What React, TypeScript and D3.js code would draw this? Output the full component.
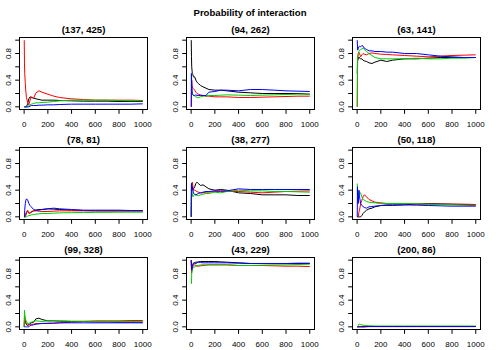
import React from 'react';
import * as d3 from 'd3';

const W = 500;
const H = 350;

// iterations at which the running estimates were read off the picture
const steps = [1, 3, 5, 10, 15, 20, 30, 40, 50, 60, 80, 100, 125, 150, 200, 250, 300, 400, 500, 600, 700, 800, 900, 1000];

const panelTitles = ['(137, 425)', '(94, 262)', '(63, 141)', '(78, 81)', '(38, 277)', '(50, 118)', '(99, 328)', '(43, 229)', '(200, 86)'];
const seriesColors = ['#000000', '#FF0000', '#00CD00', '#0000FF'];
const xTicks = [0, 200, 400, 600, 800, 1000];
const yTicks = [0, 0.2, 0.4, 0.6, 0.8, 1];
const yLabelTicks = [0, 0.4, 0.8];

// each panel: black, red, green, blue
const panel1 = [
  [0, 0, 0, 0, 0, 0, 0.05, 0.12, 0.15, 0.14, 0.13, 0.12, 0.11, 0.1, 0.1, 0.1, 0.095, 0.09, 0.085, 0.085, 0.085, 0.08, 0.08, 0.08],
  [1, 0.67, 0.5, 0.35, 0.22, 0.14, 0.06, 0.03, 0.1, 0.15, 0.13, 0.21, 0.24, 0.22, 0.19, 0.16, 0.14, 0.12, 0.11, 0.1, 0.1, 0.1, 0.1, 0.095],
  [0, 0, 0, 0, 0, 0, 0, 0.02, 0.03, 0.04, 0.05, 0.06, 0.06, 0.065, 0.07, 0.08, 0.09, 0.1, 0.1, 0.1, 0.1, 0.095, 0.09, 0.09],
  [0, 0, 0, 0, 0, 0, 0, 0, 0.01, 0.02, 0.02, 0.02, 0.025, 0.025, 0.03, 0.03, 0.035, 0.04, 0.04, 0.04, 0.04, 0.04, 0.04, 0.045],
];
const panel2 = [
  [1, 0.75, 0.6, 0.5, 0.48, 0.45, 0.45, 0.4, 0.37, 0.35, 0.32, 0.3, 0.28, 0.26, 0.25, 0.25, 0.24, 0.22, 0.21, 0.2, 0.2, 0.2, 0.2, 0.19],
  [0, 0.33, 0.4, 0.3, 0.28, 0.27, 0.25, 0.22, 0.2, 0.19, 0.18, 0.17, 0.16, 0.16, 0.15, 0.15, 0.15, 0.14, 0.14, 0.145, 0.15, 0.155, 0.16, 0.16],
  [0.5, 0.33, 0.25, 0.2, 0.18, 0.18, 0.16, 0.15, 0.14, 0.135, 0.15, 0.16, 0.165, 0.17, 0.17, 0.175, 0.18, 0.175, 0.17, 0.175, 0.18, 0.185, 0.19, 0.19],
  [0, 0.5, 0.33, 0.2, 0.18, 0.17, 0.17, 0.18, 0.17, 0.17, 0.17, 0.17, 0.17, 0.22, 0.23, 0.25, 0.25, 0.24, 0.26, 0.26, 0.25, 0.24, 0.235, 0.23],
];
const panel3 = [
  [0.5, 0.67, 0.7, 0.72, 0.75, 0.73, 0.72, 0.72, 0.7, 0.69, 0.68, 0.66, 0.65, 0.67, 0.7, 0.68, 0.7, 0.72, 0.72, 0.73, 0.74, 0.74, 0.74, 0.74],
  [0, 0.5, 0.75, 0.8, 0.82, 0.8, 0.75, 0.78, 0.8, 0.79, 0.78, 0.8, 0.81, 0.8, 0.79, 0.785, 0.78, 0.77, 0.76, 0.75, 0.76, 0.77, 0.775, 0.78],
  [0, 0.67, 0.75, 0.8, 0.83, 0.85, 0.86, 0.87, 0.88, 0.86, 0.83, 0.8, 0.77, 0.74, 0.72, 0.72, 0.72, 0.72, 0.73, 0.72, 0.72, 0.73, 0.73, 0.74],
  [1, 0.9, 0.85, 0.88, 0.9, 0.91, 0.9, 0.92, 0.91, 0.88, 0.86, 0.84, 0.84, 0.83, 0.83, 0.82, 0.82, 0.8, 0.8, 0.78, 0.76, 0.75, 0.74, 0.74],
];
const panel4 = [
  [0, 0, 0, 0, 0.03, 0.06, 0.08, 0.06, 0.05, 0.07, 0.09, 0.1, 0.11, 0.11, 0.12, 0.115, 0.11, 0.1, 0.095, 0.09, 0.09, 0.09, 0.09, 0.09],
  [0, 0, 0, 0, 0.05, 0.08, 0.1, 0.05, 0.06, 0.08, 0.09, 0.09, 0.085, 0.08, 0.08, 0.085, 0.09, 0.09, 0.09, 0.09, 0.088, 0.087, 0.085, 0.085],
  [0, 0, 0, 0, 0, 0, 0.01, 0.02, 0.02, 0.03, 0.035, 0.04, 0.045, 0.05, 0.05, 0.055, 0.06, 0.062, 0.065, 0.067, 0.068, 0.07, 0.07, 0.07],
  [0, 0, 0.1, 0.2, 0.25, 0.27, 0.25, 0.2, 0.17, 0.15, 0.11, 0.1, 0.1, 0.11, 0.12, 0.13, 0.12, 0.11, 0.1, 0.1, 0.1, 0.1, 0.095, 0.095],
];
const panel5 = [
  [0, 0.5, 0.5, 0.45, 0.4, 0.42, 0.45, 0.5, 0.52, 0.5, 0.47, 0.48, 0.45, 0.42, 0.4, 0.41, 0.4, 0.36, 0.35, 0.33, 0.33, 0.33, 0.32, 0.32],
  [0, 0.33, 0.4, 0.52, 0.45, 0.4, 0.4, 0.39, 0.38, 0.37, 0.36, 0.36, 0.37, 0.37, 0.38, 0.38, 0.38, 0.38, 0.37, 0.36, 0.37, 0.38, 0.385, 0.39],
  [0, 0.5, 0.4, 0.35, 0.3, 0.32, 0.33, 0.33, 0.32, 0.315, 0.33, 0.34, 0.35, 0.35, 0.37, 0.36, 0.38, 0.4, 0.39, 0.39, 0.38, 0.38, 0.375, 0.37],
  [0, 0.5, 0.4, 0.45, 0.4, 0.35, 0.34, 0.33, 0.34, 0.35, 0.36, 0.37, 0.38, 0.38, 0.39, 0.39, 0.39, 0.42, 0.41, 0.41, 0.41, 0.41, 0.41, 0.41],
];
const panel6 = [
  [0, 0, 0, 0, 0, 0, 0, 0.02, 0.05, 0.07, 0.1, 0.12, 0.13, 0.15, 0.17, 0.18, 0.18, 0.18, 0.19, 0.2, 0.195, 0.19, 0.185, 0.18],
  [0, 0, 0, 0, 0.07, 0.1, 0.2, 0.25, 0.3, 0.33, 0.3, 0.26, 0.24, 0.22, 0.21, 0.2, 0.2, 0.2, 0.19, 0.19, 0.19, 0.19, 0.19, 0.185],
  [0.5, 0.33, 0.3, 0.3, 0.35, 0.38, 0.35, 0.3, 0.26, 0.25, 0.23, 0.22, 0.215, 0.21, 0.2, 0.2, 0.2, 0.2, 0.195, 0.19, 0.185, 0.18, 0.175, 0.17],
  [0, 0.45, 0.3, 0.2, 0.4, 0.3, 0.2, 0.17, 0.155, 0.14, 0.13, 0.15, 0.155, 0.16, 0.17, 0.17, 0.17, 0.18, 0.175, 0.17, 0.165, 0.16, 0.16, 0.16],
];
const panel7 = [
  [0, 0.1, 0.1, 0.07, 0.05, 0.03, 0.02, 0.03, 0.05, 0.06, 0.07, 0.12, 0.13, 0.11, 0.09, 0.09, 0.085, 0.08, 0.08, 0.075, 0.075, 0.07, 0.07, 0.07],
  [0, 0.17, 0.15, 0.1, 0.07, 0.05, 0.04, 0.03, 0.03, 0.035, 0.04, 0.05, 0.05, 0.05, 0.05, 0.055, 0.06, 0.07, 0.08, 0.09, 0.09, 0.09, 0.095, 0.095],
  [0, 0.25, 0.2, 0.13, 0.1, 0.08, 0.05, 0.05, 0.06, 0.07, 0.08, 0.09, 0.085, 0.08, 0.09, 0.09, 0.09, 0.085, 0.085, 0.08, 0.08, 0.08, 0.078, 0.075],
  [0, 0, 0, 0, 0, 0, 0, 0, 0.02, 0.025, 0.03, 0.04, 0.045, 0.05, 0.055, 0.055, 0.06, 0.06, 0.06, 0.06, 0.06, 0.06, 0.06, 0.06],
];
const panel8 = [
  [1, 0.9, 0.9, 0.92, 0.94, 0.96, 0.965, 0.97, 0.97, 0.975, 0.98, 0.98, 0.98, 0.98, 0.98, 0.975, 0.97, 0.96, 0.95, 0.95, 0.95, 0.95, 0.95, 0.95],
  [1, 0.8, 0.82, 0.88, 0.9, 0.92, 0.93, 0.92, 0.91, 0.91, 0.915, 0.92, 0.925, 0.93, 0.93, 0.93, 0.93, 0.92, 0.92, 0.92, 0.915, 0.91, 0.91, 0.905],
  [0.67, 0.65, 0.8, 0.86, 0.88, 0.89, 0.9, 0.91, 0.92, 0.92, 0.93, 0.93, 0.93, 0.93, 0.93, 0.93, 0.93, 0.92, 0.92, 0.925, 0.93, 0.93, 0.935, 0.94],
  [1, 0.9, 0.85, 0.9, 0.93, 0.94, 0.95, 0.95, 0.96, 0.97, 0.965, 0.96, 0.96, 0.96, 0.96, 0.96, 0.96, 0.955, 0.95, 0.95, 0.95, 0.95, 0.955, 0.955],
];
const panel9 = [
  [0, 0, 0, 0, 0, 0, 0, 0, 0, 0, 0.005, 0.005, 0.005, 0.005, 0.005, 0.005, 0.005, 0.005, 0.005, 0.005, 0.005, 0.005, 0.005, 0.005],
  [0, 0, 0, 0, 0, 0, 0, 0, 0, 0, 0, 0.003, 0.003, 0.003, 0.003, 0.003, 0.003, 0.003, 0.003, 0.003, 0.003, 0.003, 0.003, 0.003],
  [0, 0, 0, 0.02, 0.04, 0.04, 0.035, 0.03, 0.025, 0.02, 0.02, 0.015, 0.015, 0.012, 0.012, 0.012, 0.012, 0.012, 0.012, 0.012, 0.012, 0.012, 0.012, 0.012],
  [0, 0, 0, 0, 0.005, 0.005, 0.005, 0.005, 0.005, 0.005, 0.005, 0.005, 0.005, 0.005, 0.005, 0.005, 0.005, 0.005, 0.005, 0.005, 0.005, 0.005, 0.005, 0.005],
];
const panels = [panel1, panel2, panel3, panel4, panel5, panel6, panel7, panel8, panel9];

export default function App() {
  const colW = W / 3;
  const rowH = 110;
  const outerTop = 20;
  const boxW = 128;
  const boxH = 72;
  const tick = 4.3;

  // R's default 4% axis extension
  const x = d3.scaleLinear().domain([1 - 39.96, 1000 + 39.96]).range([0, boxW]);
  const y = d3.scaleLinear().domain([-0.04, 1.04]).range([boxH, 0]);
  const line = d3.line<number>()
    .x((_, i) => x(steps[i]))
    .y(d => y(d));

  return (
    <svg
      width={W}
      height={H}
      style={{ position: 'absolute', left: 0, top: 0, display: 'block' }}
      fontFamily="'Liberation Sans', Arial, Helvetica, sans-serif"
    >
      <rect width={W} height={H} fill="#ffffff" />
      <text x={W / 2} y={15.8} textAnchor="middle" fontWeight="bold" fontSize={9.6}>
        Probability of interaction
      </text>
      {panels.map((series, k) => {
        const col = k % 3;
        const row = Math.floor(k / 3);
        const left = Math.round(col * colW + 19) + 0.5;
        const top = Math.floor(outerTop + row * rowH + 17.7) + 0.5;
        return (
          <g key={k} transform={`translate(${left},${top})`}>
            <text x={boxW / 2} y={-4.9} textAnchor="middle" fontWeight="bold" fontSize={9.6}>
              {panelTitles[k]}
            </text>
            {series.map((vals, s) => (
              <path key={s} d={line(vals) ?? ''} fill="none" stroke={seriesColors[s]} strokeWidth={1} />
            ))}
            <rect x={0} y={0} width={boxW} height={boxH} fill="none" stroke="#000" strokeWidth={1} />
            {/* y axis */}
            <line x1={0} x2={0} y1={y(0)} y2={y(1)} stroke="#000" />
            {yTicks.map(t => (
              <line key={t} x1={-tick} x2={0} y1={y(t)} y2={y(t)} stroke="#000" />
            ))}
            {yLabelTicks.map(t => (
              <text
                key={t}
                x={-8.9}
                y={y(t)}
                fontSize={8}
                textAnchor="middle"
                transform={`rotate(-90,${-8.9},${y(t)})`}
              >
                {d3.format('.1f')(t)}
              </text>
            ))}
            {/* x axis */}
            <line x1={x(0)} x2={x(1000)} y1={boxH} y2={boxH} stroke="#000" />
            {xTicks.map(t => (
              <g key={t}>
                <line x1={x(t)} x2={x(t)} y1={boxH} y2={boxH + tick} stroke="#000" />
                <text x={x(t)} y={boxH + 17.5} fontSize={8} textAnchor="middle">
                  {t}
                </text>
              </g>
            ))}
          </g>
        );
      })}
    </svg>
  );
}
